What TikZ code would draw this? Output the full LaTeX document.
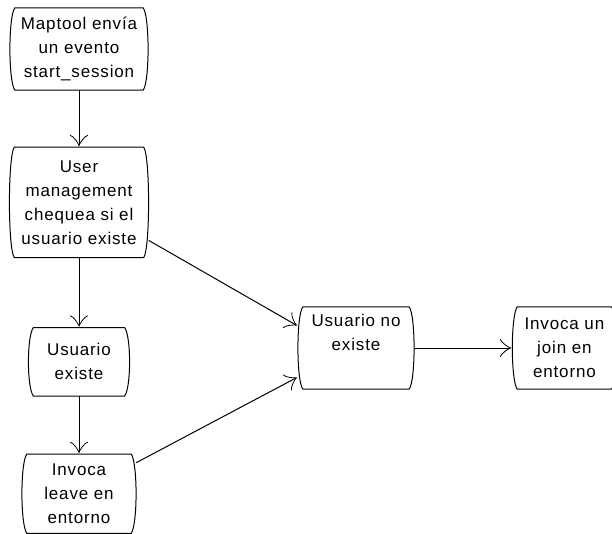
\documentclass[tikz,border=0pt]{standalone}
\usepackage{fontspec}
\setmainfont{Liberation Sans}[LetterSpace=5]
\usetikzlibrary{arrows.meta, positioning, calc}

% outline with slightly bowed sides, drawn around a named node
\newcommand{\bowbox}[1]{%
  \draw[line width=1pt]
    ($(#1.north west)+(5pt,0)$) -- ($(#1.north east)+(-5pt,0)$)
    .. controls ($(#1.north east)+(1.5pt,-9pt)$) and ($(#1.south east)+(1.5pt,9pt)$) ..
    ($(#1.south east)+(-5pt,0)$) -- ($(#1.south west)+(5pt,0)$)
    .. controls ($(#1.south west)+(-1.5pt,9pt)$) and ($(#1.north west)+(-1.5pt,-9pt)$) ..
    cycle;}

\begin{document}
\begin{tikzpicture}[
  x=1pt, y=-1pt,
  state/.style = {inner sep=0pt, align=center, font=\fontsize{17}{24}\selectfont},
  flow/.style = {line width=1pt, -{Classical TikZ Rightarrow[length=11pt, width=18pt, line join=miter]}},
  node distance=57pt and 98pt
]
  \useasboundingbox[fill=white] (0,0) rectangle (612,534);

  % ======================================================
  % left column
  % ======================================================
  \node[state, minimum width=138pt, minimum height=82pt] (maptool) at (79,49)
    {Maptool envía\\un evento\\start\_session};

  \node[state, minimum width=139pt, minimum height=110pt, below=57pt of maptool] (usercheck)
    {User\\management\\chequea si el\\usuario existe};

  \node[state, minimum width=101pt, minimum height=68pt, below=70pt of usercheck] (exists)
    {Usuario\\existe};

  \node[state, minimum width=114pt, minimum height=79pt, below=58pt of exists] (leave)
    {Invoca\\leave en\\entorno};

  % ======================================================
  % right branch
  % ======================================================
  \node[state, minimum width=116pt, minimum height=82pt] (notexists) at (356,348)
    {Usuario no\\existe\\\strut};

  \node[state, minimum width=104pt, minimum height=82pt, right=of notexists] (join)
    {Invoca un\\join en\\entorno};

  \foreach \n in {maptool, usercheck, exists, leave, notexists, join}
    \bowbox{\n};

  % connectors
  \draw[flow] (maptool) -- (usercheck);
  \draw[flow] (usercheck) -- (exists);
  \draw[flow] (exists) -- (leave);
  \draw[flow] ([yshift=-38pt]usercheck.east) -- ([yshift=22pt]notexists.west);
  \draw[flow] ([yshift=31pt]leave.east) -- ([yshift=-29pt]notexists.west);
  \draw[flow] (notexists) -- (join);

\end{tikzpicture}
\end{document}
